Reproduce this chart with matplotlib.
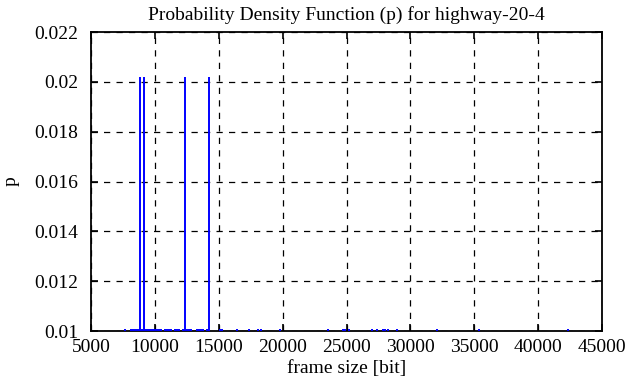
import numpy as np
import matplotlib.pyplot as plt

plt.rcParams['font.family'] = ['Liberation Serif', 'DejaVu Serif']

# frame sizes [bit] and their probability
tall_x = [8840, 9110, 12360, 14240]
tall_p = [0.0202, 0.0202, 0.0202, 0.0202]

small_x = [7662, 8131, 8288, 8444, 8601, 8757, 8992, 9227, 9384, 9540, 9697,
           9853, 10010, 10166, 10323, 10480, 10793, 10949, 11106, 11262,
           11575, 11732, 11889, 12202, 12515, 12671, 12828, 13298, 13454,
           13611, 13768, 14080, 15098, 15255, 16429, 17368, 18073, 18308,
           19795, 23552, 24727, 24884, 25197, 26997, 27388, 27858, 28015,
           28249, 28954, 32085, 35373, 42340]
small_p = [0.0101] * len(small_x)

xticks = np.arange(5000, 45001, 5000)
yticks = [0.01, 0.012, 0.014, 0.016, 0.018, 0.02, 0.022]
ylabels = ['0.01', '0.012', '0.014', '0.016', '0.018', '0.02', '0.022']

fig = plt.figure(figsize=(6.36, 3.87), dpi=100)
ax = fig.add_axes([91/636, 56/387, 511/636, 299/387])

x = np.array(small_x + tall_x)
p = np.array(small_p + tall_p)
ax.vlines(x, 0, p, colors='#0000ff', linewidth=1.4, zorder=3)

ax.set_xlim(5000, 45000)
ax.set_ylim(0.01, 0.022)
ax.set_xticks(xticks)
ax.set_yticks(yticks)
ax.set_yticklabels(ylabels)
ax.grid(True, color='black', linestyle=(0, (5, 5)), linewidth=0.9)
ax.set_axisbelow(True)
ax.tick_params(direction='in', top=True, right=True, length=5, width=1.2,
               labelsize=14, colors='black')
ax.tick_params(axis='x', pad=6)
ax.tick_params(axis='y', pad=9)
for s in ax.spines.values():
    s.set_linewidth(1.3)
    s.set_zorder(2.5)

ax.set_xlabel('frame size [bit]', fontsize=14, labelpad=3)
ax.set_ylabel('p', fontsize=14, labelpad=11)
ax.set_title('Probability Density Function (p) for highway-20-4', fontsize=14, pad=9)

plt.savefig('out.png', dpi=100)
